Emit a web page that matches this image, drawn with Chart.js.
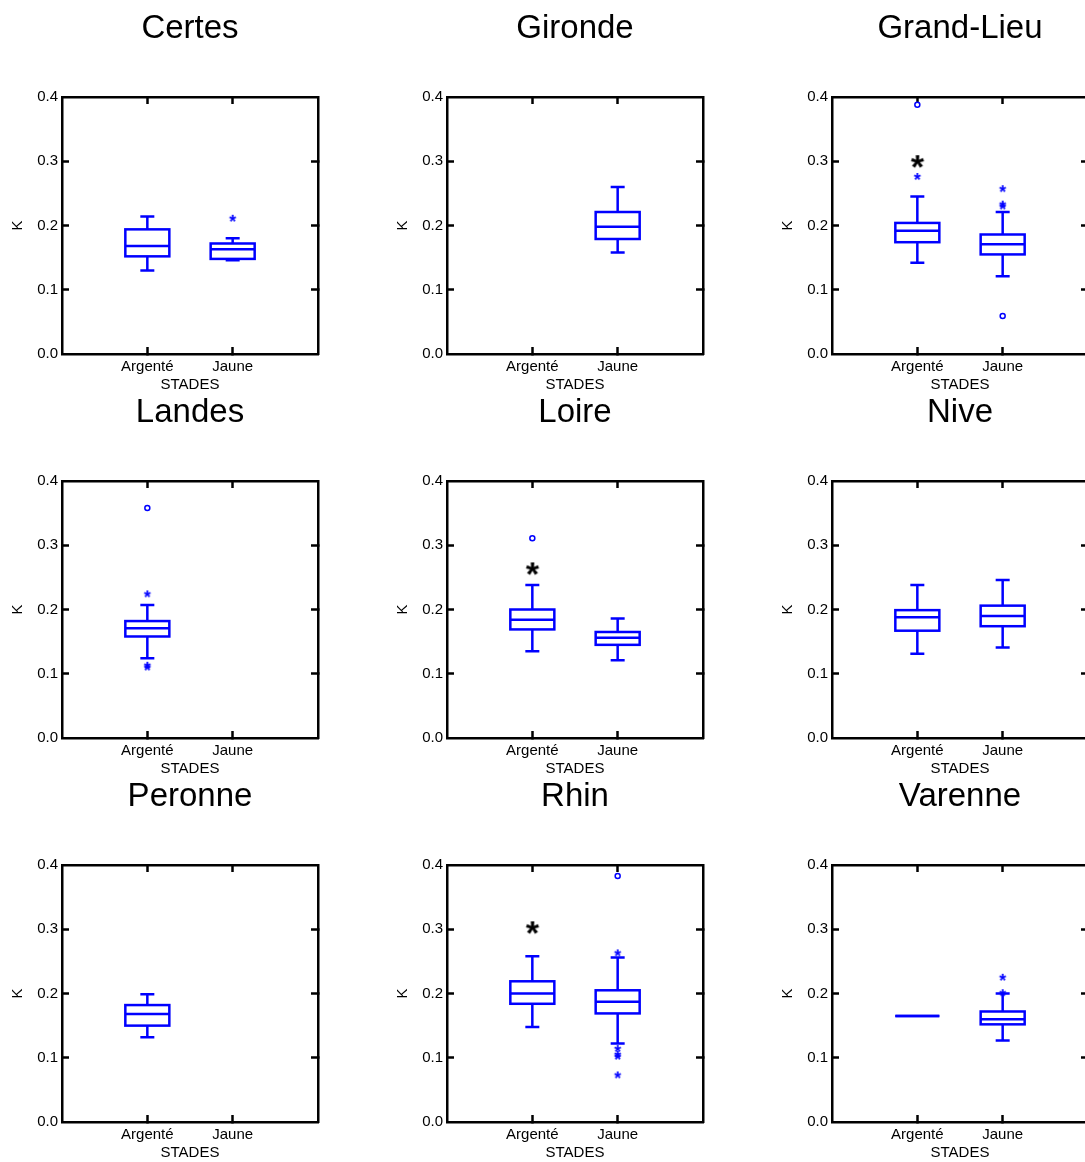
<!DOCTYPE html>
<html>
<head>
<meta charset="utf-8">
<script src="https://cdn.jsdelivr.net/npm/chart.js@4.4.0/dist/chart.umd.min.js"></script>
<style>
  html, body { margin: 0; padding: 0; background: #fff; overflow: hidden; }
  #grid { position: relative; width: 1085px; height: 1162px; overflow: hidden; }
  #grid canvas { position: absolute; }
</style>
</head>
<body>
<div id="grid"></div>
<script>
// sites (one panel each) and stages on the x axis
const sites = ['Certes', 'Gironde', 'Grand-Lieu', 'Landes', 'Loire', 'Nive', 'Peronne', 'Rhin', 'Varenne'];
const stades = ['Argenté', 'Jaune'];
const yTicks = [0, 0.1, 0.2, 0.3, 0.4];

// box plot statistics per site: [Argenté, Jaune]
const highWhisker = [[0.214, 0.180], [null, 0.260], [0.245, 0.221], [0.207, null], [0.238, 0.186],
                     [0.238, 0.246], [0.199, null], [0.258, 0.256], [0.165, 0.200]];
const q3 = [[0.194, 0.172], [null, 0.221], [0.204, 0.186], [0.182, null], [0.200, 0.165],
            [0.199, 0.206], [0.182, null], [0.219, 0.205], [0.165, 0.172]];
const medians = [[0.168, 0.163], [null, 0.198], [0.192, 0.171], [0.171, null], [0.184, 0.156],
                 [0.188, 0.190], [0.168, null], [0.200, 0.187], [0.165, 0.160]];
const q1 = [[0.152, 0.148], [null, 0.179], [0.174, 0.155], [0.158, null], [0.169, 0.145],
            [0.167, 0.174], [0.150, null], [0.184, 0.169], [0.165, 0.152]];
const lowWhisker = [[0.130, 0.146], [null, 0.158], [0.142, 0.121], [0.124, null], [0.135, 0.121],
                    [0.131, 0.141], [0.132, null], [0.148, 0.122], [0.165, 0.127]];

// outliers: "*" and "o"
const starOutliers = [[[], [0.212]], [[], []], [[0.277], [0.258, 0.234, 0.231]], [[0.225, 0.114, 0.111], []],
                      [[], []], [[], []], [[], []], [[], [0.264, 0.115, 0.106, 0.103, 0.074]], [[], [0.226, 0.202]]];
const circleOutliers = [[[], []], [[], []], [[0.388], [0.059]], [[0.358], []],
                        [[0.311], []], [[], []], [[], []], [[], [0.383]], [[], []]];
// significance mark (black asterisk) above Argenté
const signifMarks = [null, null, 0.300, null, 0.264, null, null, 0.303, null];

const BLUE = '#0000ff';
const FONT = '"Liberation Sans", Arial, Helvetica, sans-serif';
const BOX_W = 44, CAP_W = 14;

Chart.defaults.color = '#000';
Chart.defaults.font.family = FONT;

function glyph(ch, font, color, size) {
  const c = document.createElement('canvas');
  c.width = size; c.height = size;
  const g = c.getContext('2d');
  g.font = font; g.fillStyle = color; g.textAlign = 'center';
  const m = g.measureText(ch);
  g.fillText(ch, size / 2, size / 2 + (m.actualBoundingBoxAscent - m.actualBoundingBoxDescent) / 2);
  return c;
}
const smallStar = glyph('*', 'bold 18px ' + FONT, BLUE, 14);
const bigStar = glyph('*', 'bold 34px ' + FONT, '#000', 30);

const boxPlugin = {
  id: 'boxes',
  beforeDatasetsDraw(chart, args, opts) {
    const s = opts.site;
    const x = chart.scales.x, y = chart.scales.y;
    const ctx = chart.ctx;
    ctx.save();
    ctx.strokeStyle = BLUE;
    ctx.lineWidth = 2.5;
    stades.forEach((st, j) => {
      if (medians[s][j] == null) return;
      const cx = x.getPixelForValue(j + 1);
      const yHi = y.getPixelForValue(highWhisker[s][j]);
      const yQ3 = y.getPixelForValue(q3[s][j]);
      const yMed = y.getPixelForValue(medians[s][j]);
      const yQ1 = y.getPixelForValue(q1[s][j]);
      const yLo = y.getPixelForValue(lowWhisker[s][j]);
      ctx.beginPath();
      ctx.moveTo(cx, yQ3); ctx.lineTo(cx, yHi);
      ctx.moveTo(cx, yQ1); ctx.lineTo(cx, yLo);
      ctx.moveTo(cx - CAP_W / 2, yHi); ctx.lineTo(cx + CAP_W / 2, yHi);
      ctx.moveTo(cx - CAP_W / 2, yLo); ctx.lineTo(cx + CAP_W / 2, yLo);
      ctx.moveTo(cx - BOX_W / 2, yMed); ctx.lineTo(cx + BOX_W / 2, yMed);
      ctx.stroke();
      ctx.strokeRect(cx - BOX_W / 2, yQ3, BOX_W, yQ1 - yQ3);
    });
    ctx.restore();
  }
};

function pts(list) {
  const out = [];
  list.forEach((vals, j) => vals.forEach(v => out.push({ x: j + 1, y: v })));
  return out;
}

// inward tick marks, hidden on the frame corners
function frameGrid(lo, hi) {
  return {
    drawOnChartArea: false, drawTicks: true, tickLength: -7, tickWidth: 2.5,
    tickColor: c => (c.tick && (Math.abs(c.tick.value - lo) < 1e-9 || Math.abs(c.tick.value - hi) < 1e-9))
      ? 'rgba(0,0,0,0)' : '#000'
  };
}
const frameBorder = { display: true, color: '#000', width: 2.5 };

const grid = document.getElementById('grid');
sites.forEach((site, i) => {
  const canvas = document.createElement('canvas');
  canvas.width = 385; canvas.height = 395;
  canvas.style.left = (i % 3) * 385 + 'px';
  canvas.style.top = Math.floor(i / 3) * 384 + 'px';
  grid.appendChild(canvas);

  const datasets = [
    { label: '*', data: pts(starOutliers[i]), pointStyle: smallStar, pointRadius: 5 },
    { label: 'o', data: pts(circleOutliers[i]), pointStyle: 'circle', pointRadius: 2.5,
      borderColor: BLUE, backgroundColor: '#fff', borderWidth: 1.5 },
    { label: 'sig', data: signifMarks[i] == null ? [] : [{ x: 1, y: signifMarks[i] }],
      pointStyle: bigStar, pointRadius: 10 }
  ];

  new Chart(canvas, {
    type: 'scatter',
    data: { datasets },
    plugins: [boxPlugin],
    options: {
      responsive: false,
      animation: false,
      layout: { padding: { left: 0, right: 5, top: 0, bottom: 0 } },
      plugins: {
        legend: { display: false },
        tooltip: { enabled: false },
        boxes: { site: i },
        title: {
          display: true, text: site, color: '#000',
          font: { size: 33, weight: 'normal', family: FONT },
          padding: { top: 9, bottom: 48.4 }
        }
      },
      scales: {
        x: {
          type: 'linear', position: 'bottom', min: 0, max: 3,
          ticks: { stepSize: 1, autoSkip: false, maxRotation: 0, padding: 11,
                   font: { size: 15 }, callback: v => (v >= 1 && v <= 2) ? stades[v - 1] : '' },
          grid: frameGrid(0, 3), border: frameBorder,
          title: { display: true, text: 'STADES', font: { size: 15 }, padding: { top: 0, bottom: 1 } },
          afterFit: s => { s.height = 41; }
        },
        x2: {
          type: 'linear', position: 'top', min: 0, max: 3,
          ticks: { stepSize: 1, display: false },
          grid: frameGrid(0, 3), border: frameBorder,
          afterFit: s => { s.height = 0; }
        },
        y: {
          type: 'linear', position: 'left', min: yTicks[0], max: yTicks[yTicks.length - 1],
          afterBuildTicks: s => { s.ticks = yTicks.map(v => ({ value: v })); },
          ticks: { padding: 11, font: { size: 15 }, callback: v => v.toFixed(1) },
          grid: frameGrid(0, 0.4), border: frameBorder,
          title: { display: true, text: 'K', font: { size: 15 }, padding: { top: 9, bottom: 0 } },
          afterFit: s => { s.width = 62; }
        },
        y2: {
          type: 'linear', position: 'right', min: yTicks[0], max: yTicks[yTicks.length - 1],
          afterBuildTicks: s => { s.ticks = yTicks.map(v => ({ value: v })); },
          ticks: { display: false },
          grid: frameGrid(0, 0.4), border: frameBorder,
          afterFit: s => { s.width = 62; }
        }
      }
    }
  });
});
</script>
</body>
</html>
